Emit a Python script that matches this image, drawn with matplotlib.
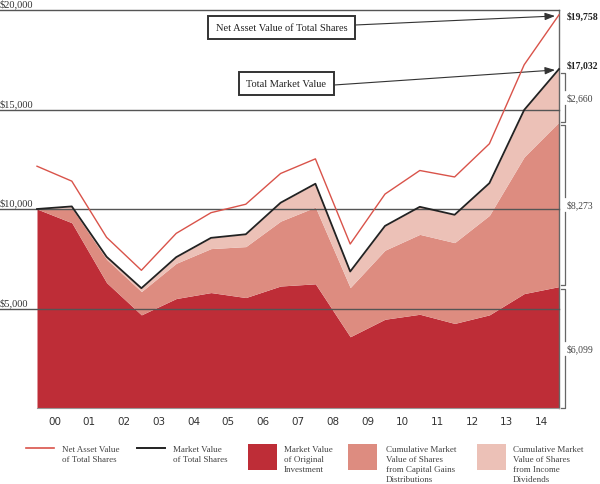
import numpy as np
import matplotlib
matplotlib.use("Agg")
import matplotlib.pyplot as plt
from matplotlib.patches import Rectangle

# ---- data ----
years = ["00", "01", "02", "03", "04", "05", "06", "07", "08", "09", "10", "11", "12", "13", "14"]
original = [10000, 9310, 6300, 4680, 5500, 5800, 5550, 6130, 6240, 3580, 4460, 4710, 4250, 4680, 5750, 6099]
cap_gains = [0, 740, 1170, 1170, 1770, 2210, 2560, 3260, 3855, 2470, 3470, 4015, 4060, 5000, 6870, 8273]
income = [0, 80, 130, 170, 310, 540, 620, 925, 1175, 810, 1220, 1385, 1400, 1620, 2360, 2660]
nav = [12150, 11400, 8575, 6920, 8775, 9815, 10240, 11785, 12520, 8240, 10750, 11935, 11610, 13280, 17250, 19758]
y_ticks = [5000, 10000, 15000, 20000]
y_tick_labels = ["$5,000", "$10,000", "$15,000", "$20,000"]
nav_label = "$19,758"
mv_label = "$17,032"
bracket_labels = ["$6,099", "$8,273", "$2,660"]

C_DARK = "#BE2D37"
C_MED = "#DD8C80"
C_LIGHT = "#ECC1B7"
C_NAV = "#D9534A"
C_MV = "#222222"
C_GRID = "#555555"
C_TXT = "#333333"
SERIF = ["Liberation Serif", "DejaVu Serif"]

W, H = 600, 485
fig = plt.figure(figsize=(W / 100, H / 100), dpi=100)
L, R, T, B = 37, 559, 11, 409
ax = fig.add_axes([L / W, (H - B) / H, (R - L) / W, (B - T) / H])
n = len(original)
x = np.arange(n)
ax.set_xlim(0, n - 1)
ax.set_ylim(0, 20000)

def px2x(px):
    return (px - L) / (R - L) * (n - 1)

def py2y(py):
    return (B - py) / (B - T) * 20000

orig = np.array(original, float)
capt = orig + np.array(cap_gains, float)
mv = capt + np.array(income, float)

ax.fill_between(x, 0, orig, color=C_DARK, lw=0, zorder=1)
ax.fill_between(x, orig, capt, color=C_MED, lw=0, zorder=1)
ax.fill_between(x, capt, mv, color=C_LIGHT, lw=0, zorder=1)

# grid lines extending into label area
for v, lab in zip(y_ticks, y_tick_labels):
    ax.plot([px2x(0), n - 1], [v, v], color=C_GRID, lw=1.0, clip_on=False, zorder=3)
    ax.text(px2x(0), v + 80, lab, ha="left", va="bottom", fontsize=7.5,
            family=SERIF, color=C_TXT)

ax.plot(x, nav, color=C_NAV, lw=1.0, zorder=4, clip_on=False)
ax.plot(x, mv, color=C_MV, lw=1.3, zorder=4, clip_on=False)

for s in ["top", "left"]:
    ax.spines[s].set_visible(False)
ax.spines["right"].set_color("#666666")
ax.spines["right"].set_linewidth(1.0)
ax.spines["bottom"].set_color("#999999")
ax.spines["bottom"].set_linewidth(0.8)
ax.set_yticks([])
ax.set_xticks(np.arange(len(years)) + 0.5)
ax.set_xticklabels(years, family="DejaVu Sans", fontsize=7.5, color=C_TXT)
ax.tick_params(axis="x", length=0, pad=6)

# end value labels
ax.text(px2x(567), py2y(17), nav_label, ha="left", va="center", fontsize=7,
        family=SERIF, fontweight="bold", color="#222222", clip_on=False)
ax.text(px2x(567), py2y(66), mv_label, ha="left", va="center", fontsize=7,
        family=SERIF, fontweight="bold", color="#222222", clip_on=False)

# brackets
xb = px2x(565)
xt = px2x(561)
ranges = [(0, orig[-1] - 120), (orig[-1] + 100, capt[-1] - 150), (capt[-1], mv[-1] - 220)]
for (lo, hi), lab in zip(ranges, bracket_labels):
    mid = (lo + hi) / 2
    gap = 380
    ax.plot([xt, xb, xb], [lo, lo, mid - gap], color="#666666", lw=0.9, clip_on=False)
    ax.plot([xt, xb, xb], [hi, hi, mid + gap], color="#666666", lw=0.9, clip_on=False)
    ax.text(px2x(567), mid, lab, ha="left", va="center", fontsize=7,
            family=SERIF, color="#444444", clip_on=False)

# annotation boxes with arrows
def box(x0, y0, x1, y1, text):
    rect = Rectangle((x0, H - y1), x1 - x0, y1 - y0, transform=None,
                     facecolor="white", edgecolor="#333333", lw=1.4, zorder=6)
    fig.patches.append(rect)
    fig.text((x0 + x1) / 2 / W, 1 - (y0 + y1) / 2 / H, text, ha="center", va="center",
             fontsize=7.5, family=SERIF, color="#222222", zorder=7)

box(208, 17, 355, 40, "Net Asset Value of Total Shares")
box(239, 73, 334, 96, "Total Market Value")

arrowprops = dict(arrowstyle="-|>,head_length=0.6,head_width=0.22", color="#333333",
                  lw=0.8, shrinkA=0, shrinkB=0)
ax.annotate("", xy=(px2x(555), py2y(17)), xytext=(355, H - 26), textcoords="figure pixels",
            arrowprops=arrowprops, annotation_clip=False)
ax.annotate("", xy=(px2x(555), py2y(71)), xytext=(334, H - 86), textcoords="figure pixels",
            arrowprops=arrowprops, annotation_clip=False)

# legend
def ftext(px, py, s):
    fig.text(px / W, 1 - py / H, s, ha="left", va="top", fontsize=6.5,
             family=SERIF, color="#444444", linespacing=1.33)

fig.add_artist(plt.Line2D([26 / W, 54 / W], [1 - 449 / H] * 2, color=C_NAV, lw=1.2))
ftext(62, 446.5, "Net Asset Value\nof Total Shares")
fig.add_artist(plt.Line2D([137 / W, 165 / W], [1 - 449 / H] * 2, color=C_MV, lw=1.4))
ftext(173, 446.5, "Market Value\nof Total Shares")
for (x0, tx, col, txt) in [(248, 284, C_DARK, "Market Value\nof Original\nInvestment"),
                           (348, 386, C_MED, "Cumulative Market\nValue of Shares\nfrom Capital Gains\nDistributions"),
                           (477, 513, C_LIGHT, "Cumulative Market\nValue of Shares\nfrom Income\nDividends")]:
    fig.patches.append(Rectangle((x0, H - 471), 29, 26, transform=None,
                                 facecolor=col, edgecolor="none"))
    ftext(tx, 446.5, txt)

fig.savefig("out.png", dpi=100)
